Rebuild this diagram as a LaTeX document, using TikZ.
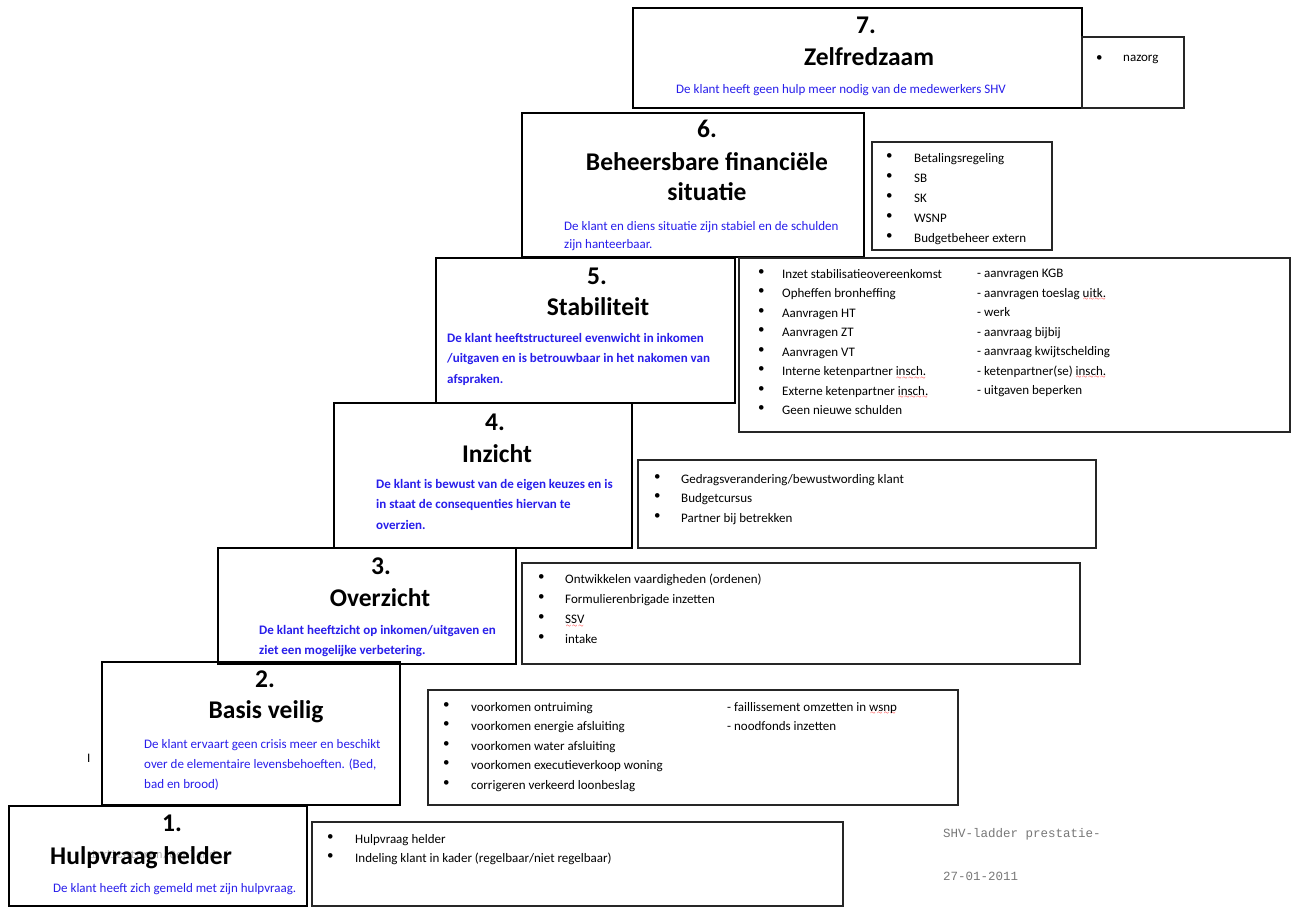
\documentclass[tikz,border=0pt]{standalone}
\usepackage{fontspec}
\setmainfont{Carlito}
\newfontfamily\monofont{Liberation Mono}
\definecolor{descblue}{RGB}{40,30,235}
\definecolor{ghost}{RGB}{120,120,120}
\newcommand\spellerr[1]{\setbox0=\hbox{#1}\leavevmode\rlap{\color{red}\raisebox{-3.5pt}{\makebox[\wd0][l]{\xleaders\hbox{$\scriptscriptstyle\sim$}\hskip\wd0}}}\box0}
\tikzset{
  stepbox/.style={draw=black, line width=2.2pt},
  listbox/.style={draw=black!85, line width=1.3pt},
  ttl/.style={font=\fontsize{25.5}{30}\selectfont\bfseries, inner sep=0pt, text height=0.64em, text depth=0pt, align=center},
  txt/.style={align=left, anchor=north west, inner sep=0pt, execute at begin node={\rule{0pt}{10pt}}},
  desc/.style={txt, font=\fontsize{13}{20}\selectfont, text=descblue},
  descb/.style={txt, text=descblue, font=\fontsize{13}{20.5}\selectfont\bfseries},
  lst/.style={txt, font=\fontsize{13}{19.5}\selectfont},
  mono/.style={font=\monofont\fontsize{12.5}{15}\selectfont, text=ghost, anchor=base west, inner sep=0pt}
}
\begin{document}
\begin{tikzpicture}[x=1pt,y=-1pt]
\useasboundingbox[fill=white] (0,0) rectangle (1297,908);

% ---------- step boxes ----------
\draw[stepbox] (633,8) rectangle (1082,108);
\draw[stepbox] (522,113) rectangle (864,257);
\draw[stepbox] (436,258) rectangle (735,403);
\draw[stepbox] (334,403) rectangle (632,548);
\draw[stepbox] (218,548) rectangle (516,664);
\draw[stepbox] (102,662) rectangle (400,805);
\draw[stepbox] (9,806) rectangle (307,906);

% ---------- list boxes ----------
\draw[listbox] (1082,37) rectangle (1184,108);
\draw[listbox] (872,142) rectangle (1052,250);
\draw[listbox] (739,258) rectangle (1290,432);
\draw[listbox] (638,460) rectangle (1096,548);
\draw[listbox] (522,563) rectangle (1080,664);
\draw[listbox] (428,690) rectangle (958,805);
\draw[listbox] (312,822) rectangle (843,906);

% ---------- step 7 ----------
\node[ttl] (n7) at (866,30) {7.};
\node[ttl] (t7) at (869,62) {Zelfredzaam};
\node[desc] (d7) at (676,83) {De klant heeft geen hulp meer nodig van de medewerkers SHV};
\node[lst] (b7) at (1096,51) {\textbullet};
\node[lst] (l7) at (1123,51) {nazorg};

% ---------- step 6 ----------
\node[ttl] (n6) at (707,134) {6.};
\node[ttl] (t6a) at (707,167) {Beheersbare financiële};
\node[ttl] (t6b) at (707,197) {situatie};
\node[desc, font=\fontsize{13}{18}\selectfont] (d6) at (564,221) {De klant en diens situatie zijn stabiel en de schulden\\zijn hanteerbaar.};
\node[lst, font=\fontsize{13}{20}\selectfont] (b6) at (886,153) {\textbullet\\\textbullet\\\textbullet\\\textbullet\\\textbullet};
\node[lst, font=\fontsize{13}{20}\selectfont] (l6) at (914,153) {Betalingsregeling\\SB\\SK\\WSNP\\Budgetbeheer extern};

% ---------- step 5 ----------
\node[ttl] (n5) at (597,281) {5.};
\node[ttl] (t5) at (598,312) {Stabiliteit};
\node[descb] (d5) at (447,333) {De klant heeftstructureel evenwicht in inkomen\\/uitgaven en is betrouwbaar in het nakomen van\\afspraken.};
\node[lst] (b5) at (758,269) {\textbullet\\\textbullet\\\textbullet\\\textbullet\\\textbullet\\\textbullet\\\textbullet\\\textbullet};
\node[lst] (l5) at (782,269) {Inzet stabilisatieovereenkomst\\Opheffen bronheffing\\Aanvragen HT\\Aanvragen ZT\\Aanvragen VT\\Interne ketenpartner \spellerr{insch.}\\Externe ketenpartner \spellerr{insch.}\\Geen nieuwe schulden};
\node[lst] (m5) at (977,269) {- aanvragen KGB\\- aanvragen toeslag \spellerr{uitk.}\\- werk\\- aanvraag bijbij\\- aanvraag kwijtschelding\\- ketenpartner(se) \spellerr{insch.}\\- uitgaven beperken};

% ---------- step 4 ----------
\node[ttl] (n4) at (495,427) {4.};
\node[ttl] (t4) at (497,459) {Inzicht};
\node[descb] (d4) at (376,479) {De klant is bewust van de eigen keuzes en is\\in staat de consequenties hiervan te\\overzien.};
\node[lst] (b4) at (654,474) {\textbullet\\\textbullet\\\textbullet};
\node[lst] (l4) at (681,474) {Gedragsverandering/bewustwording klant\\Budgetcursus\\Partner bij betrekken};

% ---------- step 3 ----------
\node[ttl] (n3) at (381,571) {3.};
\node[ttl] (t3) at (380,603) {Overzicht};
\node[descb, font=\fontsize{13}{20}\selectfont\bfseries] (d3) at (259,625) {De klant heeftzicht op inkomen/uitgaven en\\ziet een mogelijke verbetering.};
\node[lst, font=\fontsize{13}{20}\selectfont] (b3) at (538,574) {\textbullet\\\textbullet\\\textbullet\\\textbullet};
\node[lst, font=\fontsize{13}{20}\selectfont] (l3) at (565,574) {Ontwikkelen vaardigheden (ordenen)\\Formulierenbrigade inzetten\\\spellerr{SSV}\\intake};

% ---------- step 2 ----------
\node[ttl] (n2) at (265,684) {2.};
\node[ttl] (t2) at (266,715) {Basis veilig};
\node[desc] (d2) at (144,739) {De klant ervaart geen crisis meer en beschikt\\over de elementaire levensbehoeften. (Bed,\\bad en brood)};
\node[lst] (b2) at (443,702) {\textbullet\\\textbullet\\\textbullet\\\textbullet\\\textbullet};
\node[lst] (l2) at (471,702) {voorkomen ontruiming\\voorkomen energie afsluiting\\voorkomen water afsluiting\\voorkomen executieverkoop woning\\corrigeren verkeerd loonbeslag};
\node[lst] (m2) at (727,702) {- faillissement omzetten in \spellerr{wsnp}\\- noodfonds inzetten};
\node[lst] (bar) at (87,752) {I};

% ---------- step 1 ----------
\node[mono, text=black!30, font=\monofont\fontsize{11}{13}\selectfont] (g1) at (90,858) {indicatoren/Gepland /};
\node[ttl] (n1) at (172,828) {1.};
\node[ttl] (t1) at (141,861) {Hulpvraag helder};
\node[desc] (d1) at (53,882) {De klant heeft zich gemeld met zijn hulpvraag.};
\node[lst] (b1) at (327,834) {\textbullet\\\textbullet};
\node[lst] (l1) at (355,834) {Hulpvraag helder\\Indeling klant in kader (regelbaar/niet regelbaar)};

% ---------- footer ----------
\node[mono] (f1) at (943,837) {SHV-ladder prestatie-};
\node[mono] (f2) at (943,880) {27-01-2011};
\end{tikzpicture}
\end{document}
